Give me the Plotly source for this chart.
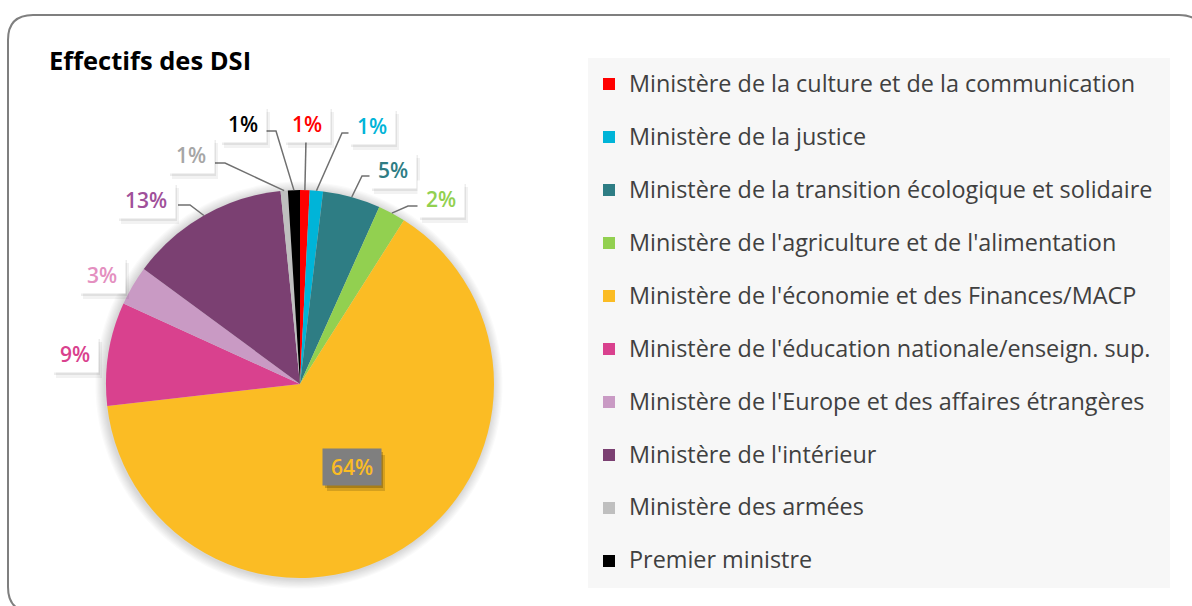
import math
import plotly.graph_objects as go

# ---------------- data ----------------
categories = [
    "Ministère de la culture et de la communication",
    "Ministère de la justice",
    "Ministère de la transition écologique et solidaire",
    "Ministère de l'agriculture et de l'alimentation",
    "Ministère de l'économie et des Finances/MACP",
    "Ministère de l'éducation nationale/enseign. sup.",
    "Ministère de l'Europe et des affaires étrangères",
    "Ministère de l'intérieur",
    "Ministère des armées",
    "Premier ministre",
]
shares = [0.8, 1.1, 4.8, 2.3, 64.2, 8.6, 3.3, 13.3, 0.6, 1.0]
title_text = "Effectifs des DSI"

# ---------------- styles ----------------
slice_colors = ["#ff0000", "#00b4d8", "#2e7d84", "#92d050", "#fbbc24",
                "#d9418e", "#c99ac4", "#7b4072", "#bfbfbf", "#000000"]
label_colors = ["#ff0000", "#00b4d8", "#2e7d84", "#92d050", "#fbbc24",
                "#d9418e", "#e48fc0", "#a0509a", "#a6a6a6", "#000000"]
# label placement in pixels: (text cx, text cy, attach x, attach y, elbow dx)
label_pos = [
    (307, 124, 306, 140, 0),
    (372, 126, 350, 133, -8),
    (393, 170, 372, 176, -10),
    (441, 199, 418, 206, -10),
    (352, 467, None, None, None),
    (75, 354, None, None, None),
    (102, 275, None, None, None),
    (146, 200, 178, 205, 12),
    (191, 155, 215, 163, 10),
    (243, 124, 265, 131, 11),
]

W, H = 1192, 606
CX, CY, R = 300, 384, 194
FONT = "Open Sans"
PAD = 5


def px(x):
    return x / W


def py(y):
    return 1 - y / H


fig = go.Figure()
fig.add_trace(go.Pie(
    labels=[f"<span style='font-size:23.4px'>{c}</span><br> " for c in categories],
    values=shares,
    marker=dict(colors=slice_colors, line=dict(width=0)),
    sort=False,
    direction="clockwise",
    rotation=0,
    textinfo="none",
    hoverinfo="label+percent",
    domain=dict(x=[px(CX - R), px(CX + R)], y=[py(CY + R), py(CY - R)]),
))

shapes = []
annotations = []


def rrect(x0, y0, x1, y1, r):
    return (f"M {px(x0 + r)} {py(y0)} L {px(x1 - r)} {py(y0)} "
            f"Q {px(x1)} {py(y0)} {px(x1)} {py(y0 + r)} L {px(x1)} {py(y1 - r)} "
            f"Q {px(x1)} {py(y1)} {px(x1 - r)} {py(y1)} L {px(x0 + r)} {py(y1)} "
            f"Q {px(x0)} {py(y1)} {px(x0)} {py(y1 - r)} L {px(x0)} {py(y0 + r)} "
            f"Q {px(x0)} {py(y0)} {px(x0 + r)} {py(y0)} Z")


shapes.append(dict(type="path", xref="paper", yref="paper",
                   path=rrect(8, 15, 1204, 612, 25),
                   line=dict(color="#7f7f7f", width=2), layer="below"))
shapes.append(dict(type="rect", xref="paper", yref="paper",
                   x0=px(588), x1=px(1170), y0=py(588), y1=py(58),
                   fillcolor="#f7f7f7", line=dict(width=0), layer="below"))
for k in range(1, 9):
    rr = R + k * 1.2
    shapes.append(dict(type="circle", xref="paper", yref="paper",
                       x0=px(CX - rr - 1), x1=px(CX + rr - 1),
                       y0=py(CY + rr + 1), y1=py(CY - rr + 1),
                       fillcolor="rgba(0,0,0,0.018)", line=dict(width=0), layer="below"))

total = sum(shares)
cum = 0.0
for i, v in enumerate(shares):
    mid = 2 * math.pi * (cum + v / 2) / total
    cum += v
    ex, ey = CX + R * math.sin(mid), CY - R * math.cos(mid)
    tx, ty, ax_, ay_, edx = label_pos[i]
    pct = f"{round(100 * v / total)}%"
    inner = i == 4
    bw = 12 * len(pct) + 12
    bh = 26
    if ax_ is not None:
        path = f"M {px(ex)} {py(ey)} L {px(ax_ + edx)} {py(ay_)} L {px(ax_)} {py(ay_)}"
        shapes.append(dict(type="path", xref="paper", yref="paper", path=path,
                           line=dict(color="#707070", width=1.5)))
    hw, hh = bw / 2 + PAD, bh / 2 + PAD
    for sx, sy, a in [(2, 3, 0.07), (4, 6, 0.05)]:
        shapes.append(dict(type="rect", xref="paper", yref="paper",
                           x0=px(tx - hw + sx), x1=px(tx + hw + sx),
                           y0=py(ty + hh + sy), y1=py(ty - hh + sy),
                           fillcolor=f"rgba(0,0,0,{a * (3 if inner else 1)})",
                           line=dict(width=0), layer="above"))
    annotations.append(dict(
        x=px(tx), y=py(ty), xref="paper", yref="paper", text=pct,
        showarrow=False, xanchor="center", yanchor="middle",
        width=bw, height=bh, align="center", valign="middle",
        font=dict(family=FONT, size=21, color=label_colors[i], weight=600),
        bgcolor="#7f7f7f" if inner else "#ffffff", borderpad=PAD))

annotations.append(dict(
    x=px(47), y=py(60), xref="paper", yref="paper", text=f"<b>{title_text}</b>",
    showarrow=False, xanchor="left", yanchor="middle",
    font=dict(family=FONT, size=25.5, color="#000000")))

fig.update_layout(
    width=W, height=H,
    margin=dict(l=0, r=0, t=0, b=0),
    paper_bgcolor="#ffffff",
    plot_bgcolor="#ffffff",
    shapes=shapes,
    annotations=annotations,
    showlegend=True,
    legend=dict(
        x=px(589), y=py(65), xanchor="left", yanchor="top",
        bgcolor="rgba(0,0,0,0)", borderwidth=0,
        font=dict(family=FONT, size=19.23, color="#404040"),
        valign="top", traceorder="normal",
    ),
)

fig.write_html("out.html", config={"displayModeBar": False},
               post_script="document.body.style.margin='0px';")
